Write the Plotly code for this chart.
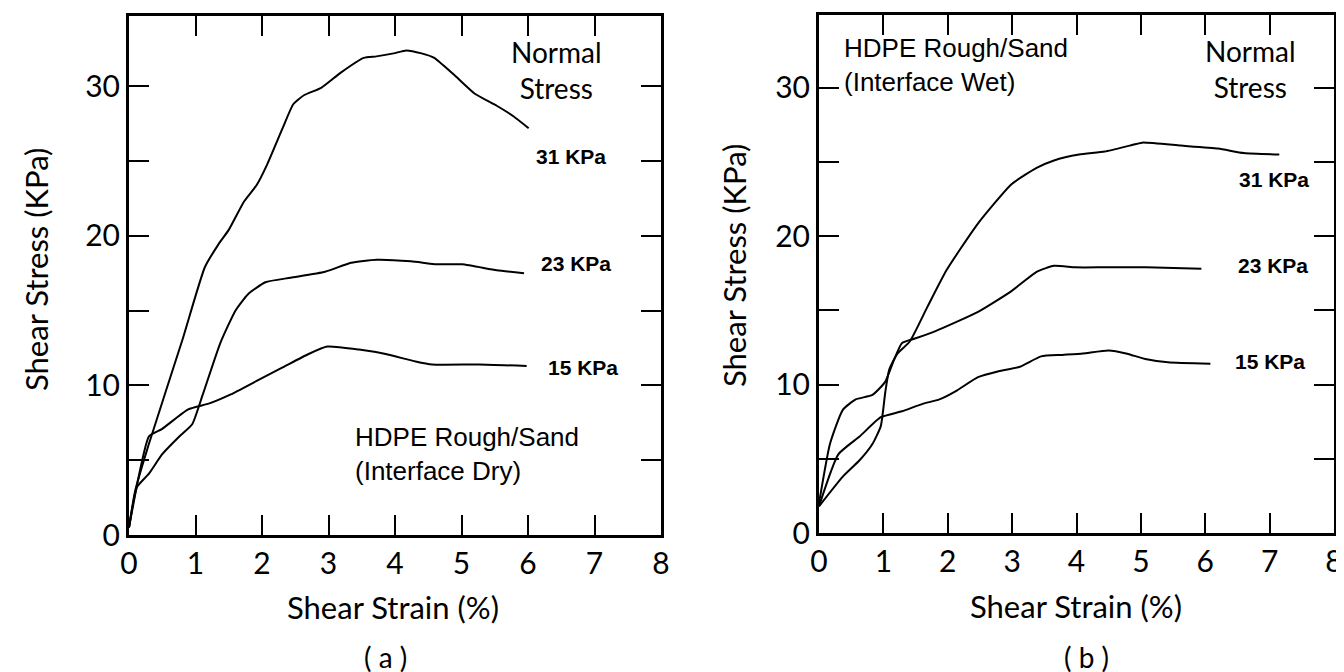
import plotly.graph_objects as go

# ---------------- data ----------------
x_ticks = [0, 1, 2, 3, 4, 5, 6, 7, 8]
x_tick_text = ["0", "1", "2", "3", "4", "5", "6", "7", "8"]
y_ticks = [0, 5, 10, 15, 20, 25, 30]
y_tick_text = ["0", "", "10", "", "20", "", "30"]

# Panel (a): interface dry
a31_x = [0, 0.09, 0.30, 0.80, 1.14, 1.34, 1.50, 1.73, 1.92, 2.08, 2.31, 2.47, 2.63, 2.89, 3.18, 3.53, 3.72, 3.98, 4.17, 4.40, 4.59, 4.88, 5.20, 5.53, 5.78, 6.01]
a31_y = [0.5, 2.9, 6.1, 13.0, 17.9, 19.4, 20.4, 22.3, 23.4, 24.8, 27.2, 28.8, 29.4, 29.9, 30.9, 31.9, 32.0, 32.2, 32.4, 32.2, 31.9, 30.8, 29.5, 28.7, 28.0, 27.2]
a23_x = [0, 0.12, 0.30, 0.50, 0.76, 0.95, 1.11, 1.37, 1.60, 1.79, 2.05, 2.43, 2.95, 3.34, 3.72, 4.24, 4.63, 5.01, 5.53, 5.94]
a23_y = [0.5, 3.2, 4.1, 5.4, 6.6, 7.4, 9.4, 12.8, 15.0, 16.1, 16.9, 17.2, 17.6, 18.2, 18.4, 18.3, 18.1, 18.1, 17.7, 17.5]
a15_x = [0, 0.15, 0.30, 0.50, 0.89, 1.21, 1.53, 1.92, 2.31, 2.70, 2.98, 3.46, 3.86, 4.31, 4.56, 5.27, 5.98]
a15_y = [0.5, 4.0, 6.6, 7.1, 8.4, 8.8, 9.4, 10.3, 11.2, 12.1, 12.6, 12.4, 12.1, 11.6, 11.4, 11.4, 11.3]

# Panel (b): interface wet
b31_x = [0, 0.37, 0.63, 0.83, 0.96, 1.03, 1.09, 1.22, 1.41, 1.68, 1.98, 2.46, 2.99, 3.38, 3.65, 4.04, 4.44, 4.83, 5.02, 5.62, 6.20, 6.60, 7.15]
b31_y = [1.8, 3.8, 4.9, 6.0, 7.2, 9.5, 11.0, 12.1, 12.9, 15.2, 17.7, 20.8, 23.5, 24.6, 25.1, 25.5, 25.7, 26.1, 26.3, 26.1, 25.9, 25.6, 25.5]
b23_x = [0, 0.17, 0.37, 0.57, 0.83, 1.03, 1.15, 1.29, 1.49, 1.81, 2.47, 2.99, 3.38, 3.65, 3.98, 4.44, 5.08, 5.94]
b23_y = [2.0, 6.0, 8.3, 9.0, 9.3, 10.2, 11.5, 12.8, 13.1, 13.6, 14.9, 16.3, 17.6, 18.0, 17.9, 17.9, 17.9, 17.8]
b15_x = [0, 0.30, 0.63, 0.96, 1.29, 1.61, 1.87, 2.14, 2.47, 2.79, 3.12, 3.45, 3.78, 4.10, 4.50, 4.77, 5.09, 5.42, 6.08]
b15_y = [1.8, 5.3, 6.5, 7.8, 8.2, 8.7, 9.0, 9.6, 10.5, 10.9, 11.2, 11.9, 12.0, 12.1, 12.3, 12.1, 11.7, 11.5, 11.4]

stress_labels = ["31 KPa", "23 KPa", "15 KPa"]

# ---------------- figure ----------------
W, H = 1344, 672
FONT = "Lato, 'DejaVu Sans', sans-serif"
HELV = "'Liberation Sans', Arial, sans-serif"

def px(x):
    return x / W

def py(y):
    return 1 - y / H

fig = go.Figure()
line_style = dict(color="black", width=2, shape="spline", smoothing=0.5)
for xs, ys in [(a31_x, a31_y), (a23_x, a23_y), (a15_x, a15_y)]:
    fig.add_trace(go.Scatter(x=xs, y=ys, mode="lines", line=line_style,
                             xaxis="x", yaxis="y", showlegend=False, hoverinfo="skip"))
for xs, ys in [(b31_x, b31_y), (b23_x, b23_y), (b15_x, b15_y)]:
    fig.add_trace(go.Scatter(x=xs, y=ys, mode="lines", line=line_style,
                             xaxis="x2", yaxis="y2", showlegend=False, hoverinfo="skip"))

axis_common = dict(showline=True, linecolor="black", linewidth=3, mirror="ticks",
                   ticks="inside", ticklen=20, tickwidth=2, tickcolor="black",
                   showgrid=False, zeroline=False, automargin=False,
                   ticklabeloverflow="allow",
                   tickfont=dict(family=FONT, size=30, color="black"))

fig.update_layout(
    width=W, height=H, autosize=False,
    margin=dict(l=0, r=0, t=0, b=0),
    paper_bgcolor="white", plot_bgcolor="white",
    template="none",
    xaxis=dict(domain=[px(121), px(653)], range=[0, 8], tickvals=x_ticks,
               ticktext=x_tick_text, anchor="y", **axis_common),
    yaxis=dict(domain=[py(527), py(8)], range=[0, 34.7], tickvals=y_ticks,
               ticktext=y_tick_text, anchor="x", **axis_common),
    xaxis2=dict(domain=[px(811), px(1326)], range=[0, 8], tickvals=x_ticks,
                ticktext=x_tick_text, anchor="y2", **axis_common),
    yaxis2=dict(domain=[py(525), py(7)], range=[0, 34.9], tickvals=y_ticks,
                ticktext=y_tick_text, anchor="x2", **axis_common),
)

ann = []

def text(x, y, s, size, family=FONT, xanchor="center", yanchor="middle", align="center",
         angle=0, bold=False):
    if bold:
        s = "<b>" + s.replace("<br>", "</b><br><b>") + "</b>"
    ann.append(dict(x=px(x), y=py(y), xref="paper", yref="paper", text=s, showarrow=False,
                    xanchor=xanchor, yanchor=yanchor, align=align, textangle=angle,
                    font=dict(family=family, size=size, color="black")))

# Axis titles
text(28, 262, "Shear Stress (KPa)", 31, angle=-90)
text(726, 258, "Shear Stress (KPa)", 31, angle=-90)
text(385, 599, "Shear Strain (%)", 31)
text(1068, 598, "Shear Strain (%)", 31)
text(377, 668, "( a )", 28, yanchor="bottom")
text(1078, 668, "( b )", 28, yanchor="bottom")

# Panel (a) labels
text(548, 62, "Normal<br>Stress", 28)
text(563, 148, stress_labels[0], 21, family=HELV, bold=True)
text(568, 255, stress_labels[1], 21, family=HELV, bold=True)
text(575, 359, stress_labels[2], 21, family=HELV, bold=True)
text(345, 446, "HDPE Rough/Sand<br>(Interface Dry)", 26, family=HELV, xanchor="left", align="left")

# Panel (b) labels
text(1242, 61, "Normal<br>Stress", 28)
text(1266, 171, stress_labels[0], 21, family=HELV, bold=True)
text(1265, 257, stress_labels[1], 21, family=HELV, bold=True)
text(1262, 353, stress_labels[2], 21, family=HELV, bold=True)
text(834, 57, "HDPE Rough/Sand<br>(Interface Wet)", 26, family=HELV, xanchor="left", align="left")

fig.update_layout(annotations=ann)
fig.write_html("out.html")
